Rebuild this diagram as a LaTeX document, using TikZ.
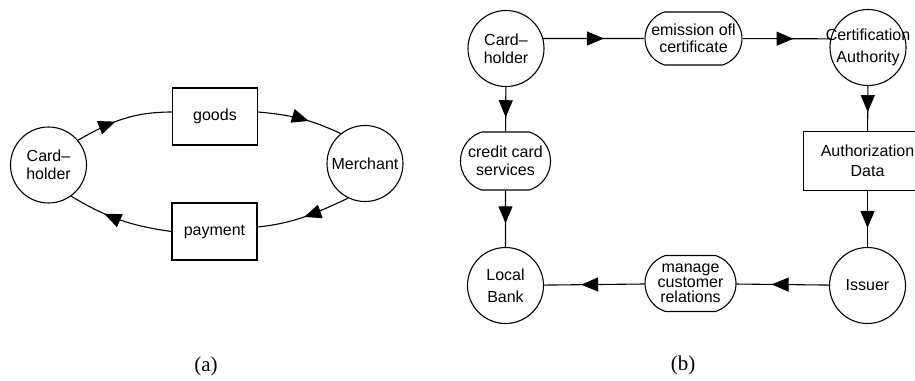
\documentclass[tikz,border=0pt]{standalone}
\usepackage{fontspec}
\setmainfont{Liberation Sans}
\newfontfamily\capfont{Liberation Serif}
\usetikzlibrary{arrows.meta,shapes.misc,decorations.markings}

\newcommand{\pline}[2][40pt]{\makebox[#1]{#2}}

\tikzset{
	actor/.style={draw,circle,minimum size=76pt,inner sep=0pt,align=center},
	datum/.style={draw,rectangle,minimum width=85pt,minimum height=57pt,align=center},
	task/.style={draw,rounded rectangle,rounded rectangle arc length=145,minimum width=94pt,minimum height=55pt,inner xsep=0pt,inner ysep=0pt,align=center},
	midarrow/.style={decoration={markings,mark=at position #1 with {\arrow{Triangle[length=17pt,width=14pt]}}},postaction={decorate}},
	midarrow/.default=0.6
}

\begin{document}
\begin{tikzpicture}[x=1pt,y=-1pt,line width=1.1pt,
	every node/.style={font=\fontsize{16}{18}\selectfont}]
	\useasboundingbox (0,0) rectangle (915,380);
	\clip (0,0) rectangle (915,380);
	% (a) exchange
	\node[actor] (hold) at (48.5,165) {Card–\\holder};
	\node[actor] (merch) at (365,163.5) {Merchant};
	\node[datum] (goods) at (215,116.5) {goods};
	\node[datum] (pay) at (214.5,231.5) {payment};
	\draw[midarrow=0.42] (hold.40) to[out=30,in=180] ([yshift=4.5pt]goods.west);
	\draw[midarrow=0.6] ([yshift=4.5pt]goods.east) to[out=-5,in=155] (merch.129);
	\draw[midarrow=0.5] (merch.244) to[out=205,in=6] ([yshift=4.5pt]pay.east);
	\draw[midarrow=0.65] (pay.west) to[out=172,in=329] (hold.306);
	\node[font=\capfont\fontsize{21}{24}\selectfont] (capa) at (206,366) {(a)};
	% (b) roles
	\node[actor] (hold2) at (506,48.5) {Card–\\holder};
	\node[task,minimum width=97pt,minimum height=53pt,font=\fontsize{16}{17}\selectfont] (emit) at (693.5,38.5) {\pline{emission ofl}\\\pline{certificate}};
	\node[actor,font=\fontsize{16}{22}\selectfont] (cert) at (868,47.5) {\pline{Certification}\\\pline{Authority}};
	\node[datum,minimum width=128pt,minimum height=59pt,font=\fontsize{16}{20}\selectfont] (auth) at (867.5,161) {Authorization\\Data};
	\node[task,minimum width=90pt,minimum height=58pt] (cred) at (505.5,161) {\pline{credit card}\\\pline{services}};
	\node[actor,font=\fontsize{16}{22}\selectfont] (local) at (505.5,285.5) {Local\\Bank};
	\node[task,minimum width=91pt,minimum height=56pt,font=\fontsize{16}{15}\selectfont] (cust) at (690.5,283.5) {\pline{manage}\\\pline{customer}\\\pline{relations}};
	\node[actor] (iss) at (867.5,285.5) {Issuer};
	\draw[midarrow=0.6] (hold2.15) -- (emit);
	\draw[midarrow=0.58] (emit) -- (cert.167);
	\draw[midarrow=0.68] (hold2) -- (cred);
	\draw[midarrow=0.58] (cert) -- (auth);
	\draw[midarrow=0.66] (auth) -- (iss);
	\draw[midarrow=0.58] (cred) -- (local);
	\draw[midarrow=0.62] (iss) -- (cust);
	\draw[midarrow=0.63] (cust) -- (local);
	\node[font=\capfont\fontsize{21}{24}\selectfont] (capb) at (683,365) {(b)};
\end{tikzpicture}
\end{document}
